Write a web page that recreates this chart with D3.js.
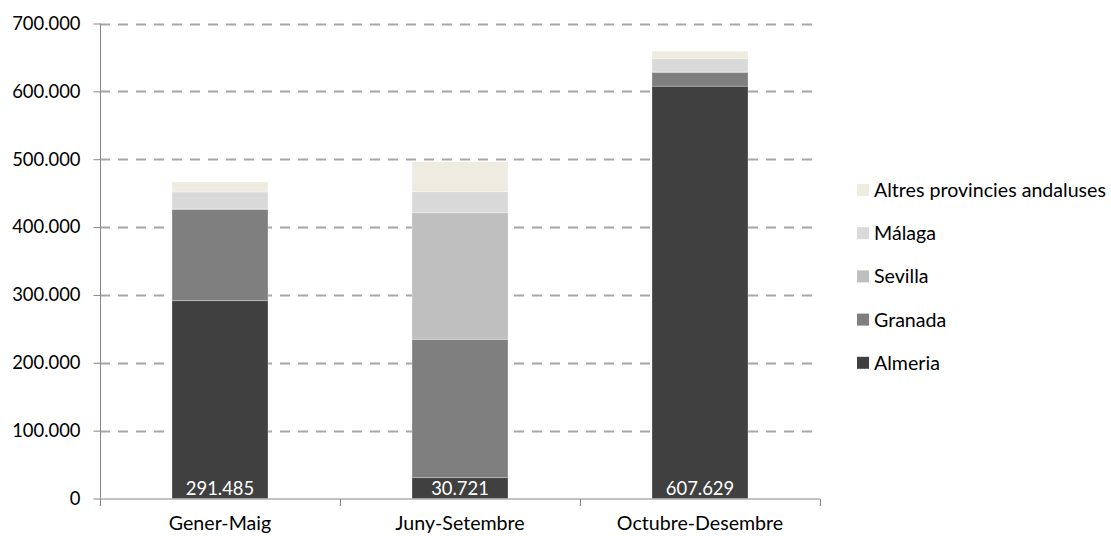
<!DOCTYPE html>
<html>
<head>
<meta charset="utf-8">
<script src="https://cdn.jsdelivr.net/npm/d3@7"></script>
<style>
html,body{margin:0;padding:0;background:#fff;}
svg{display:block;font-family:Lato, "Open Sans", sans-serif;}
</style>
</head>
<body>
<svg id="chart" width="1111" height="536"></svg>
<script>
const categories = ["Gener-Maig", "Juny-Setembre", "Octubre-Desembre"];
const seriesNames = ["Almeria", "Granada", "Sevilla", "Málaga", "Altres provincies andaluses"];
const almeria = [291485, 30721, 607629];
const granada = [134700, 203800, 20500];
const sevilla = [1500, 186600, 500];
const malaga = [24100, 31000, 19600];
const altres = [14700, 44200, 10800];
const yTicks = [0, 100000, 200000, 300000, 400000, 500000, 600000, 700000];
const colors = ["#404040", "#7f7f7f", "#bfbfbf", "#d9d9d9", "#eeece1"];

const rows = categories.map((c, i) => ({
  cat: c,
  "Almeria": almeria[i],
  "Granada": granada[i],
  "Sevilla": sevilla[i],
  "Málaga": malaga[i],
  "Altres provincies andaluses": altres[i]
}));

const svg = d3.select("#chart");
const x = d3.scaleBand().domain(categories).range([100, 820]).paddingInner(0.6).paddingOuter(0.3);
const y = d3.scaleLinear().domain([0, 700000]).range([498.5, 23.5]);
const color = d3.scaleOrdinal().domain(seriesNames).range(colors);
const loc = d3.formatLocale({decimal: ",", thousands: ".", grouping: [3], currency: ["", "€"]});
const fmt = loc.format(",");
const FS_NUM = 18.4;
const FS_TXT = 19.6;

// gridlines
svg.append("g").selectAll("line").data(yTicks.filter(d => d > 0)).join("line")
  .attr("x1", 100).attr("x2", 820)
  .attr("y1", d => Math.round(y(d)) + 0.5).attr("y2", d => Math.round(y(d)) + 0.5)
  .attr("stroke", "#a6a6a6").attr("stroke-width", 2).attr("stroke-dasharray", "10,8");

// bars
const stack = d3.stack().keys(seriesNames)(rows);
svg.append("g").selectAll("g").data(stack).join("g")
  .attr("fill", d => color(d.key))
  .selectAll("rect").data(d => d).join("rect")
  .attr("x", d => x(d.data.cat))
  .attr("width", x.bandwidth())
  .attr("y", d => y(d[1]))
  .attr("height", d => y(d[0]) - y(d[1]))
  .attr("stroke", "#ffffff").attr("stroke-opacity", 0.35).attr("stroke-width", 0.8);

// data labels (Almeria)
svg.append("g").selectAll("text").data(rows).join("text")
  .attr("x", d => x(d.cat) + x.bandwidth() / 2)
  .attr("y", 495)
  .attr("text-anchor", "middle")
  .attr("fill", "#ffffff")
  .attr("font-size", FS_NUM)
  .text(d => fmt(d["Almeria"]));

// y axis
const yAxis = d3.axisLeft(y).tickValues(yTicks).tickFormat(fmt).tickSize(7).tickPadding(13);
const gy = svg.append("g").attr("transform", "translate(100.5,0)").call(yAxis);
gy.select(".domain").attr("stroke", "#868686").attr("d", `M0,${y(0)}V${y(700000)}`);
gy.selectAll(".tick line").attr("stroke", "#868686");
gy.selectAll(".tick text").attr("font-size", FS_NUM).attr("fill", "#000").attr("font-family", "Lato, sans-serif");

// x axis
const gx = svg.append("g").attr("transform", `translate(0,${y(0) + 0.5})`);
gx.append("line").attr("x1", 100).attr("x2", 820).attr("stroke", "#868686");
const boundaries = [0, 1, 2, 3].map(i => x.range()[0] + i * x.step());
gx.selectAll("line.t").data(boundaries).join("line").attr("class", "t")
  .attr("x1", d => d + 0.5).attr("x2", d => d + 0.5).attr("y1", 0).attr("y2", 7).attr("stroke", "#868686");
gx.selectAll("text").data(categories).join("text")
  .attr("x", d => x(d) + x.bandwidth() / 2)
  .attr("y", 31)
  .attr("text-anchor", "middle")
  .attr("font-size", FS_TXT)
  .attr("fill", "#000")
  .text(d => d);

// legend
const legendItems = seriesNames.slice().reverse();
const lg = svg.append("g").selectAll("g").data(legendItems).join("g")
  .attr("transform", (d, i) => `translate(857,${190 + i * 43.2})`);
lg.append("rect").attr("x", 0).attr("y", -6).attr("width", 12).attr("height", 12).attr("fill", d => color(d));
lg.append("text").attr("x", 17).attr("y", 7).attr("font-size", FS_TXT).attr("fill", "#000").text(d => d);
</script>
</body>
</html>
